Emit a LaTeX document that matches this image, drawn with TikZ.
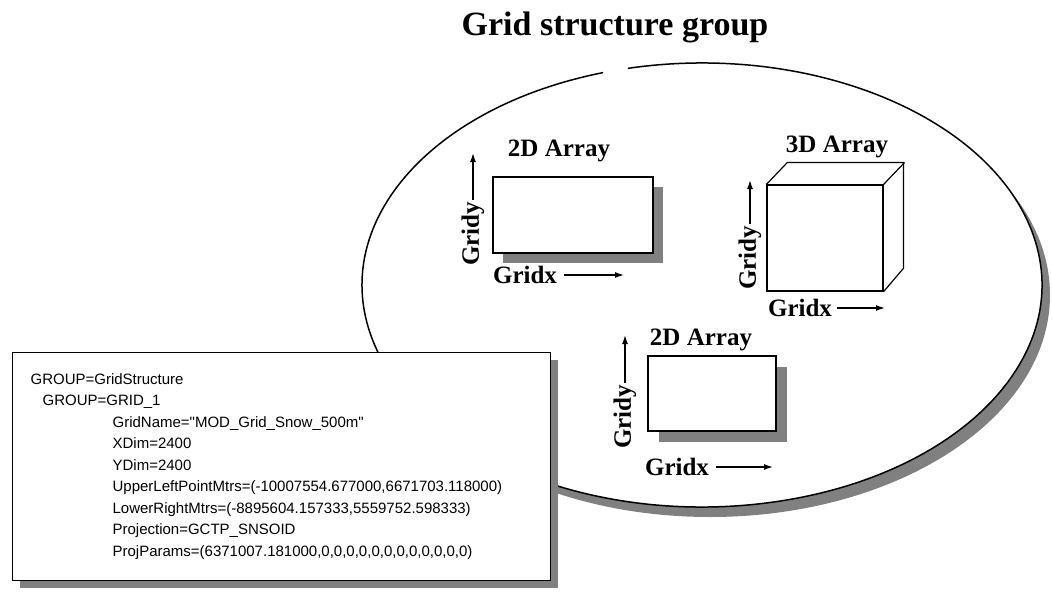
\documentclass[tikz,border=0pt]{standalone}
\usepackage{fontspec}
\setmainfont{Liberation Serif}
\newfontfamily\boxfont{Liberation Sans}
\usetikzlibrary{arrows.meta, positioning, calc, shadows}
\definecolor{ShadowGray}{RGB}{128, 128, 128}

\begin{document}
\begin{tikzpicture}[
        x=1pt, y=-1pt,
        % Styles des textes
        base/.style={inner sep=2pt, font=\bfseries\fontsize{25}{30}\selectfont},
        title_text/.style={font=\bfseries\fontsize{34}{40}\selectfont, anchor=base},
        axis_y/.style={base, rotate=90},
        % Style des tableaux
        array_box/.style={draw=black, line width=1.2pt, fill=white, inner sep=0pt},
        box_shadow/.style={drop shadow={shadow xshift=#1, shadow yshift=-#1, fill=ShadowGray, opacity=1}},
        % Style du cadre de texte
        info_box/.style={draw=black, line width=1.2pt, fill=white, anchor=north west,
            text width=502pt, minimum width=538pt, minimum height=228pt, inner xsep=18pt,
            align=left, font=\boxfont\fontsize{15}{21.5}\selectfont},
        % Style des flèches
        arrow/.style={-{Latex[length=9pt, width=6pt]}, line width=1.3pt}
    ]
    \useasboundingbox (0,0) rectangle (1052,594);

    % --- TITRE ---
    \node[title_text] (title) at (615,36) {Grid structure group};

    % --- ELLIPSE ---
    \fill[ShadowGray] (710,295) ellipse [x radius=340, y radius=222];
    \fill[white] (702,285) ellipse [x radius=340, y radius=222];
    \draw[line width=1.5pt] ($(702,285)+(-102.6:340 and 222)$) arc[start angle=-102.6, end angle=253.1, x radius=340, y radius=222];

    % --- 2D ARRAY (HAUT) ---
    \node[array_box, box_shadow=10pt, minimum width=160pt, minimum height=76pt] (arr1) at (573,215) {};
    \node[base] (lbl1) at (559,151) {2D Array};
    \node[axis_y] (gy1) at (473,234) {Gridy};
    \node[base] (gx1) at (525,275) {Gridx};
    \coordinate (gy1tip) at (473,153);
    \coordinate (gx1tip) at (624,275);

    % --- 3D ARRAY ---
    \node[array_box, minimum width=116pt, minimum height=106pt] (cube) at (825,238) {};
    \draw[line width=1.2pt] (cube.north west) -- ++(21,-22) -- ++(116,0) -- ++(0,106) -- (cube.south east);
    \draw[line width=1.2pt] (cube.north east) -- ++(21,-22);
    \node[base] (lbl2) at (837,147) {3D Array};
    \node[axis_y] (gy2) at (750,258) {Gridy};
    \node[base] (gx2) at (800,308) {Gridx};
    \coordinate (gy2tip) at (750,180);
    \coordinate (gx2tip) at (885,308);

    % --- 2D ARRAY (BAS) ---
    \node[array_box, box_shadow=11pt, minimum width=128pt, minimum height=75pt] (arr3) at (712,393.5) {};
    \node[base] (lbl3) at (701,340) {2D Array};
    \node[axis_y] (gy3) at (625,417) {Gridy};
    \node[base] (gx3) at (677,467) {Gridx};
    \coordinate (gy3tip) at (625,335);
    \coordinate (gx3tip) at (773,467);

    % --- FLÈCHES ---
    \draw[arrow] (gy1.east) -- (gy1tip);
    \draw[arrow, shorten <=5pt] (gx1.east) -- (gx1tip);
    \draw[arrow] (gy2.east) -- (gy2tip);
    \draw[arrow, shorten <=3pt] (gx2.east) -- (gx2tip);
    \draw[arrow] (gy3.east) -- (gy3tip);
    \draw[arrow, shorten <=5pt] (gx3.east) -- (gx3tip);

    % --- CADRE DE TEXTE ---
    \node[info_box, box_shadow=7pt] (info) at (12,352) {GROUP=GridStructure\\
        \hspace*{12pt}GROUP=GRID\_1\\
        \hspace*{82pt}GridName="MOD\_Grid\_Snow\_500m"\\
        \hspace*{82pt}XDim=2400\\
        \hspace*{82pt}YDim=2400\\
        \hspace*{82pt}UpperLeftPointMtrs=(-10007554.677000,6671703.118000)\\
        \hspace*{82pt}LowerRightMtrs=(-8895604.157333,5559752.598333)\\
        \hspace*{82pt}Projection=GCTP\_SNSOID\\
        \hspace*{82pt}ProjParams=(6371007.181000,0,0,0,0,0,0,0,0,0,0,0,0)};

\end{tikzpicture}
\end{document}
